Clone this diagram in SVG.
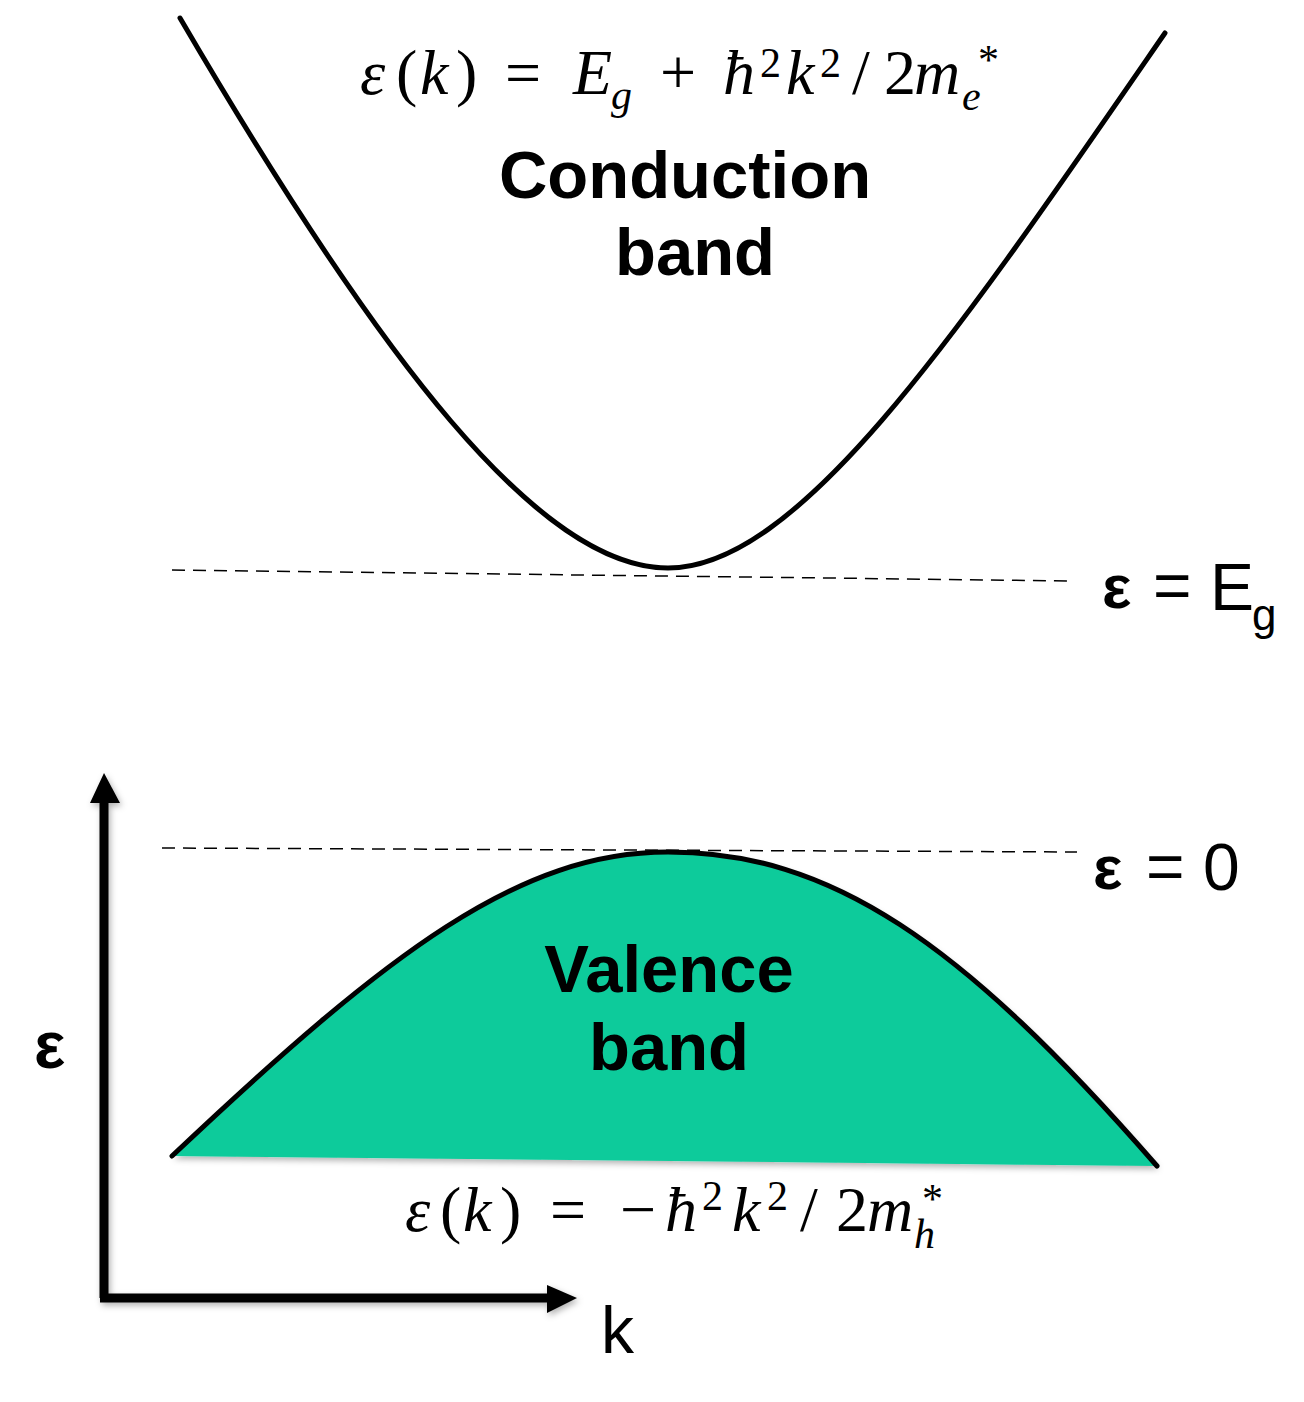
<svg xmlns="http://www.w3.org/2000/svg" width="1304" height="1402" viewBox="0 0 1304 1402">
<style>
.band{fill:none;stroke:#000;stroke-width:5;stroke-linecap:round}
.dash{fill:none;stroke:#000;stroke-width:1.5;stroke-dasharray:13 8}
.axis{fill:none;stroke:#000;stroke-width:9}
.lbl{font-family:"Liberation Sans",Arial,sans-serif;font-weight:bold;font-size:67px;text-anchor:middle;fill:#000}
.sym{font-family:"Liberation Sans",Arial,sans-serif;font-size:66px;fill:#000}
.eps{font-weight:bold}
.math{font-family:"Liberation Serif","DejaVu Serif",serif;font-size:64px;fill:#000}
.it{font-style:italic}
.sm{font-size:42px}
</style>
<defs>
<filter id="sh" x="-20%" y="-20%" width="140%" height="140%">
<feDropShadow dx="2" dy="3" stdDeviation="3" flood-color="#000" flood-opacity="0.3"/>
</filter>
</defs>
<rect width="1304" height="1402" fill="#fff"/>
<g id="conduction-band">
<path class="band" d="M180,18 C380,360 540,568 668,568 C800,568 960,330 1165,33"/>
<text class="math"><tspan class="it" x="360" y="94">ε</tspan><tspan x="396" y="94">(</tspan><tspan class="it" x="420" y="94">k</tspan><tspan x="456" y="94">)</tspan><tspan x="505" y="94">=</tspan><tspan class="it" x="573" y="94">E</tspan><tspan class="it sm" x="611" y="109">g</tspan><tspan x="660" y="94">+</tspan><tspan class="it" x="723" y="94">ħ</tspan><tspan class="sm" x="760" y="77">2</tspan><tspan class="it" x="786" y="94">k</tspan><tspan class="sm" x="820" y="77">2</tspan><tspan x="852" y="94">/</tspan><tspan x="884" y="94">2</tspan><tspan class="it" x="914" y="94">m</tspan><tspan class="it sm" x="962" y="110">e</tspan><tspan class="sm" x="978" y="74">*</tspan></text>
<text class="lbl" x="685" y="198">Conduction</text>
<text class="lbl" x="695" y="275">band</text>
</g>
<g id="valence-band">
<path d="M172,1156 C390,950 520,852 668,852 C830,852 960,940 1157,1166 Z" fill="#0ACB9B" filter="url(#sh)"/>
<path class="band" d="M172,1156 C390,950 520,852 668,852 C830,852 960,940 1157,1166"/>
<text class="lbl" x="669" y="992">Valence</text>
<text class="lbl" x="669" y="1070">band</text>
<text class="math"><tspan class="it" x="405" y="1231">ε</tspan><tspan x="440" y="1231">(</tspan><tspan class="it" x="463" y="1231">k</tspan><tspan x="500" y="1231">)</tspan><tspan x="550" y="1231">=</tspan><tspan x="620" y="1231">−</tspan><tspan class="it" x="665" y="1231">ħ</tspan><tspan class="sm" x="702" y="1210">2</tspan><tspan class="it" x="732" y="1231">k</tspan><tspan class="sm" x="767" y="1210">2</tspan><tspan x="800" y="1231">/</tspan><tspan x="836" y="1231">2</tspan><tspan class="it" x="867" y="1231">m</tspan><tspan class="it sm" x="914" y="1248">h</tspan><tspan class="sm" x="922" y="1213">*</tspan></text>
</g>
<g id="level-eg">
<text class="sym"><tspan class="eps" x="1102" y="608" font-size="62">ε</tspan><tspan x="1153" y="608">=</tspan><tspan x="1210" y="610">E</tspan><tspan x="1252" y="630" font-size="44">g</tspan></text>
</g>
<g id="level-0">
<text class="sym"><tspan class="eps" x="1093" y="889" font-size="62">ε</tspan><tspan x="1146" y="889">=</tspan><tspan x="1203" y="890">0</tspan></text>
</g>
<g id="axes" filter="url(#sh)">
<path class="axis" d="M104,1298 V800"/>
<path d="M90,803 L104,773 L120,803 Z" fill="#000"/>
<path class="axis" d="M100,1298 H550"/>
<path d="M547,1285 L577,1298 L547,1313 Z" fill="#000"/>
</g>
<text class="sym" x="601" y="1353" font-size="80">k</text>
<text class="sym eps" x="34" y="1068" font-size="100">ε</text>
<g id="connectors">
<path class="dash" d="M172,570 L1072,581"/>
<path class="dash" d="M162,848 L1077,852"/>
</g>
</svg>
